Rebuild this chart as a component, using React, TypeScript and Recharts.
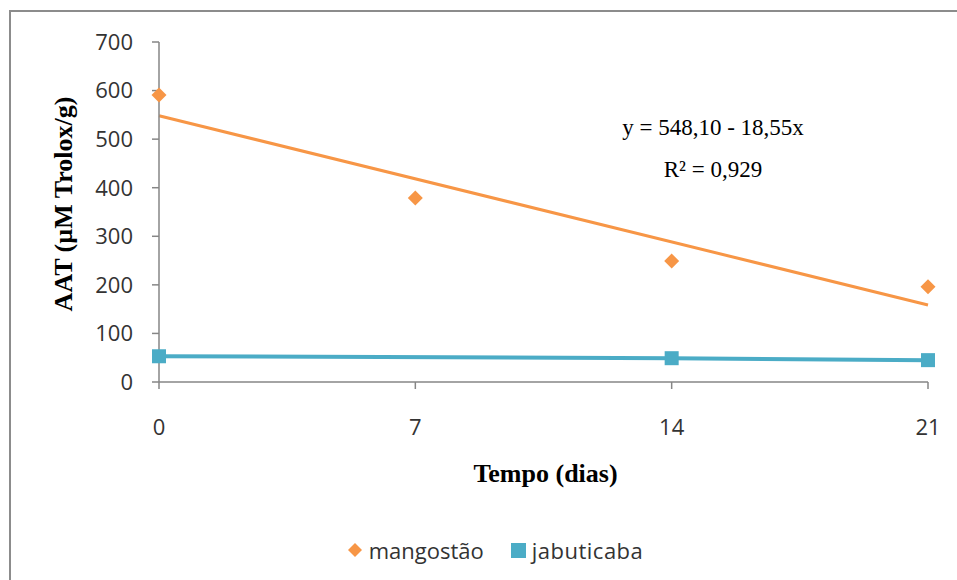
import React from 'react';
import { ComposedChart, Line, Scatter, XAxis, YAxis, Legend, Label } from 'recharts';

// Sampling days and measured antioxidant activity (µM Trolox/g)
const days = [0, 7, 14, 21];
const mangostaoValues = [591, 379, 249, 196];
const jabuticabaDays = [0, 14, 21];
const jabuticabaValues = [53, 49, 45];

// Axis ticks
const xTicks = [0, 7, 14, 21];
const yTicks = [0, 100, 200, 300, 400, 500, 600, 700];

// Linear fit of the mangostão series, as printed on the chart
const trendIntercept = 548.1;
const trendSlope = -18.55;
const equationLines = ['y = 548,10 - 18,55x', 'R² = 0,929'];

const seriesNames = ['mangostão', 'jabuticaba'];
const ORANGE = '#F79646';
const TEAL = '#4BACC6';
const AXIS = '#868686';
const TEXT = '#333333';
const FRAME = '#8c8c8c';
const SANS = '"Open Sans", sans-serif';
const SERIF = '"Liberation Serif", "Times New Roman", serif';

const mangostaoData = days.map((d, i) => ({ x: d, y: mangostaoValues[i] }));
const jabuticabaData = jabuticabaDays.map((d, i) => ({ x: d, y: jabuticabaValues[i] }));
const trendData = [days[0], days[days.length - 1]].map((d) => ({
  x: d,
  y: trendIntercept + trendSlope * d,
}));

const PAGE_W = 957;
const PAGE_H = 580;
const W = 949;
const H = 572;

const Diamond = (props: any) => {
  const { cx, cy } = props;
  if (cx == null || cy == null) return null;
  const s = 7.5;
  return <path d={`M${cx},${cy - s}L${cx + s},${cy}L${cx},${cy + s}L${cx - s},${cy}Z`} fill={ORANGE} />;
};

const SquareDot = (props: any) => {
  const { cx, cy } = props;
  if (cx == null || cy == null) return null;
  return <rect x={cx - 7} y={cy - 7} width={14} height={14} fill={TEAL} />;
};

const LegendContent = () => (
  <div
    style={{
      display: 'flex',
      justifyContent: 'center',
      alignItems: 'center',
      height: 34,
      fontFamily: SANS,
      fontSize: 22,
      color: TEXT,
    }}
  >
    <div style={{ width: 25 }} />
    <svg width={16} height={16} style={{ marginRight: 6 }}>
      <path d="M8,1L15,8L8,15L1,8Z" fill={ORANGE} />
    </svg>
    <span style={{ marginRight: 27 }}>{seriesNames[0]}</span>
    <svg width={15} height={15} style={{ marginRight: 6 }}>
      <rect x={0} y={0} width={15} height={15} fill={TEAL} />
    </svg>
    <span style={{ letterSpacing: 0.5 }}>{seriesNames[1]}</span>
  </div>
);

export default function App() {
  return (
    <div
      style={{
        position: 'fixed',
        left: 0,
        top: 0,
        width: PAGE_W,
        height: PAGE_H,
        overflow: 'hidden',
        background: '#fff',
      }}
    >
      <div style={{ position: 'absolute', left: 8, top: 8 }}>
        <ComposedChart
          width={W}
          height={H}
          margin={{ top: 34, right: 29, left: 0, bottom: 64 }}
          accessibilityLayer={false}
        >
          <XAxis
            dataKey="x"
            type="number"
            domain={[0, 21]}
            ticks={xTicks}
            interval={0}
            height={100}
            stroke={AXIS}
            strokeWidth={1.5}
            tickSize={7}
            tickMargin={30}
            tick={{ fill: TEXT, fontFamily: SANS, fontSize: 22 }}
          >
            <Label
              content={({ viewBox }: any) => (
                <text
                  x={viewBox.x + viewBox.width / 2 + 2}
                  y={viewBox.y + 100}
                  textAnchor="middle"
                  fontFamily={SERIF}
                  fontWeight="bold"
                  fontSize={26}
                  fill="#000"
                >
                  Tempo (dias)
                </text>
              )}
            />
          </XAxis>
          <YAxis
            type="number"
            domain={[0, 700]}
            ticks={yTicks}
            interval={0}
            width={151}
            stroke={AXIS}
            strokeWidth={1.5}
            tickSize={7}
            tickMargin={19}
            tick={{ fill: TEXT, fontFamily: SANS, fontSize: 22 }}
          >
            <Label
              content={({ viewBox }: any) => {
                const cx = viewBox.x + 55;
                const cy = viewBox.y + viewBox.height / 2 - 8;
                return (
                  <text
                    x={cx}
                    y={cy}
                    transform={`rotate(-90, ${cx}, ${cy})`}
                    textAnchor="middle"
                    dominantBaseline="central"
                    fontFamily={SERIF}
                    fontWeight="bold"
                    fontSize={26}
                    fill="#000"
                  >
                    AAT (µM Trolox/g)
                  </text>
                );
              }}
            />
          </YAxis>
          <Legend
            verticalAlign="bottom"
            content={LegendContent}
            wrapperStyle={{ top: 525, left: 0, width: W, height: 34 }}
          />
          <Line
            data={jabuticabaData}
            dataKey="y"
            name={seriesNames[1]}
            stroke={TEAL}
            strokeWidth={4}
            dot={<SquareDot />}
            activeDot={false}
            isAnimationActive={false}
          />
          <Line
            data={trendData}
            dataKey="y"
            name="trend"
            stroke={ORANGE}
            strokeWidth={3}
            dot={false}
            activeDot={false}
            legendType="none"
            isAnimationActive={false}
          />
          <Scatter
            data={mangostaoData}
            dataKey="y"
            name={seriesNames[0]}
            shape={<Diamond />}
            isAnimationActive={false}
          />
          <text x={705} y={127} textAnchor="middle" fontFamily={SERIF} fontSize={23} fill="#000">
            {equationLines[0]}
          </text>
          <text x={705} y={169} textAnchor="middle" fontFamily={SERIF} fontSize={23} fill="#000">
            {equationLines[1]}
          </text>
        </ComposedChart>
      </div>
      {/* blank margin strip on the right of the frame */}
      <div
        style={{ position: 'absolute', left: 941, top: 12, width: 40, height: PAGE_H, background: '#fff', zIndex: 5 }}
      />
      {/* chart frame: top and left edges */}
      <div style={{ position: 'absolute', left: 9, top: 10, width: PAGE_W, height: 2, background: FRAME, zIndex: 6 }} />
      <div style={{ position: 'absolute', left: 9, top: 10, width: 2, height: PAGE_H, background: FRAME, zIndex: 6 }} />
    </div>
  );
}
